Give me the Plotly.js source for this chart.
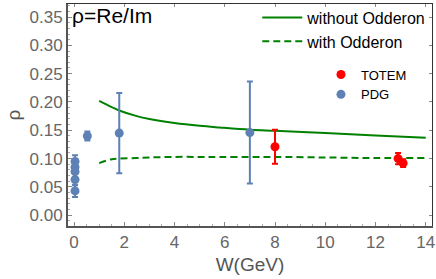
<!DOCTYPE html>
<html><head><meta charset="utf-8">
<script src="https://cdn.plot.ly/plotly-3.0.1.min.js"></script>
<style>html,body{margin:0;padding:0;background:#fff}</style>
</head><body><div id="chart" style="width:436px;height:279px"></div>
<script>
// model curves
const curveW = [1, 1.5, 1.8, 2.5, 3, 4, 5, 5.8, 7, 8, 10, 12, 14];
const rhoWithout = [0.202, 0.191, 0.185, 0.175, 0.170, 0.163, 0.158, 0.155, 0.151, 0.149, 0.145, 0.141, 0.137];
const rhoWith = [0.092, 0.099, 0.100, 0.101, 0.102, 0.103, 0.103, 0.103, 0.103, 0.103, 0.102, 0.101, 0.101];
// PDG data
const pdgW = [0.04, 0.04, 0.04, 0.04, 0.04, 0.53, 1.8, 7.0];
const pdgRho = [0.095, 0.085, 0.077, 0.063, 0.043, 0.140, 0.145, 0.146];
const pdgErr = [0.011, 0.01, 0.01, 0.01, 0.011, 0.008, 0.071, 0.09];
// TOTEM data
const totemW = [8.0, 12.9, 13.1];
const totemRho = [0.121, 0.100, 0.092];
const totemErr = [0.03, 0.01, 0.007];

const green = 'rgb(0,128,0)';
const blue = 'rgb(94,129,181)';
const red = 'rgb(255,0,0)';
const font = 'Liberation Sans, Arial, sans-serif';

const traces = [
  {x: curveW, y: rhoWithout, mode: 'lines', name: 'without Odderon', line: {color: green, width: 2, shape: 'spline', smoothing: 1}, legend: 'legend', legendgroup: 'a'},
  {x: curveW, y: rhoWith, mode: 'lines', name: 'with Odderon', line: {color: green, width: 2, dash: '7px,4px', shape: 'spline', smoothing: 1}, legend: 'legend', legendgroup: 'b'},
  {x: totemW, y: totemRho, mode: 'markers', name: 'TOTEM', marker: {color: red, size: 9},
   error_y: {type: 'data', array: totemErr, color: red, thickness: 2, width: 3}, legend: 'legend2', legendgroup: 'c'},
  {x: pdgW, y: pdgRho, mode: 'markers', name: 'PDG', marker: {color: blue, size: 9},
   error_y: {type: 'data', array: pdgErr, color: blue, thickness: 2, width: 3}, legend: 'legend2', legendgroup: 'd'}
];

const layout = {
  width: 436, height: 279,
  margin: {l: 68, r: 4, t: 1, b: 53},
  paper_bgcolor: '#fff', plot_bgcolor: '#fff',
  font: {family: font, color: '#000'},
  showlegend: true,
  xaxis: {
    range: [-0.24, 14.25], tickvals: [0, 2, 4, 6, 8, 10, 12, 14], ticktext: ['0','2','4','6','8','10','12','14'],
    showgrid: false, zeroline: false, showline: true, linecolor: '#555', linewidth: 2,
    ticks: 'inside', ticklen: 4, tickcolor: '#888', tickwidth: 1,
    minor: {dtick: 0.5, ticks: 'inside', ticklen: 2, tickcolor: '#aaa'},
    tickfont: {size: 17, color: '#666', family: font},
    title: {text: 'W(GeV)', font: {size: 19, color: '#555', family: font}, standoff: 6}
  },
  yaxis: {
    range: [-0.019, 0.373], tickvals: [0, 0.05, 0.1, 0.15, 0.2, 0.25, 0.3, 0.35],
    ticktext: ['0.00','0.05','0.10','0.15','0.20','0.25','0.30','0.35'],
    showgrid: false, zeroline: false, showline: true, linecolor: '#555', linewidth: 2,
    ticks: 'inside', ticklen: 4, tickcolor: '#888', tickwidth: 1,
    minor: {dtick: 0.01, ticks: 'inside', ticklen: 2, tickcolor: '#aaa'},
    tickfont: {size: 17, color: '#666', family: font},
    title: {text: 'ρ', font: {size: 19, color: '#555', family: font}, standoff: 4}
  },
  xaxis2: {overlaying: 'x', side: 'top', matches: 'x', range: [-0.24, 14.25], showgrid: false, zeroline: false,
    showline: true, linecolor: '#333', linewidth: 1, ticks: 'inside', ticklen: 3, tickcolor: '#888',
    tickvals: [0, 2, 4, 6, 8, 10, 12, 14], showticklabels: false},
  yaxis2: {overlaying: 'y', side: 'right', range: [-0.019, 0.373], showgrid: false, zeroline: false,
    showline: true, linecolor: '#333', linewidth: 1, ticks: 'inside', ticklen: 3, tickcolor: '#888',
    tickvals: [0, 0.05, 0.1, 0.15, 0.2, 0.25, 0.3, 0.35], showticklabels: false},
  legend: {x: 0.52, y: 1.015, xanchor: 'left', yanchor: 'top', bgcolor: 'rgba(0,0,0,0)',
    font: {size: 16, color: '#000', family: font}, tracegroupgap: 0, itemwidth: 40},
  legend2: {x: 0.695, y: 0.75, xanchor: 'left', yanchor: 'top', bgcolor: 'rgba(0,0,0,0)',
    font: {size: 13, color: '#000', family: font}, tracegroupgap: 0, itemwidth: 30},
  annotations: [
    {xref: 'paper', yref: 'paper', x: 0.005, y: 1.01, xanchor: 'left', yanchor: 'top', showarrow: false,
     text: 'ρ=Re/Im', font: {size: 21, color: '#000', family: font}}
  ]
};

// invisible trace so the mirrored frame axes are drawn
traces.push({x: [0], y: [0], xaxis: 'x2', yaxis: 'y2', mode: 'markers', marker: {opacity: 0}, showlegend: false, hoverinfo: 'skip'});

Plotly.newPlot('chart', traces, layout, {staticPlot: true});
</script></body></html>
